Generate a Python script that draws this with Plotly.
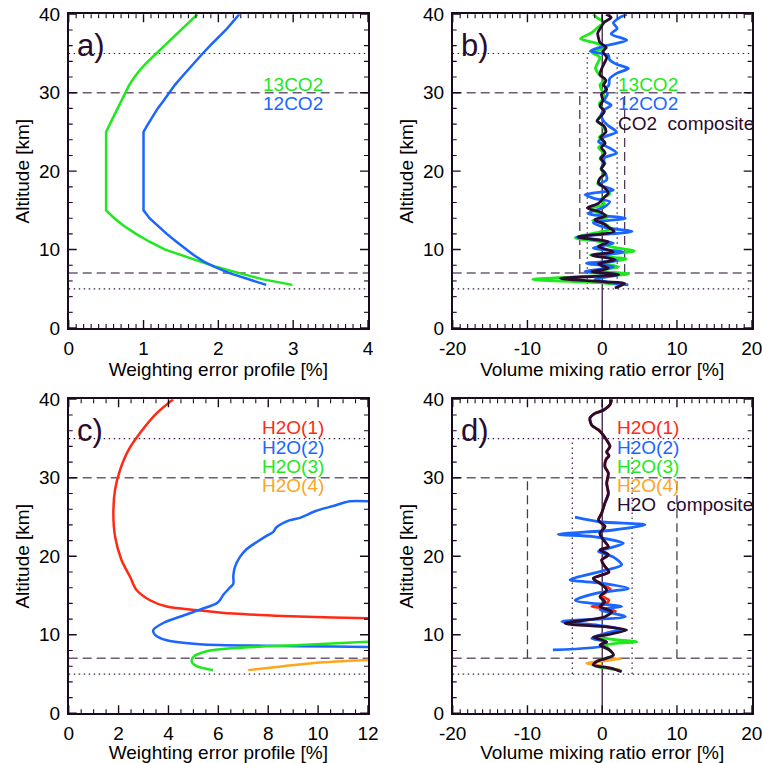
import plotly.graph_objects as go

# ---------------- data ----------------
# panel a: weighting error profiles CO2
alt_a13 = [5.5, 6.2, 7.0, 7.8, 8.5, 9.3, 10.0, 11.0, 12.0, 13.0, 14.0, 15.0,
           25.0, 26.0, 27.0, 28.0, 29.0, 30.0, 31.0, 32.0, 33.0, 34.0, 35.0, 36.0, 37.0, 38.0, 39.0, 40.0]
w_a13 = [2.99, 2.6, 2.28, 1.97, 1.75, 1.5, 1.29, 1.08, 0.9, 0.74, 0.61, 0.5,
         0.5, 0.55, 0.6, 0.65, 0.7, 0.75, 0.81, 0.88, 0.96, 1.06, 1.17, 1.28, 1.39, 1.51, 1.61, 1.72]
alt_a12 = [5.5, 6.2, 7.0, 7.8, 8.5, 9.3, 10.0, 11.0, 12.0, 13.0, 14.0, 15.0,
           25.0, 26.0, 27.0, 28.0, 29.0, 30.0, 31.0, 32.0, 33.0, 34.0, 35.0, 36.0, 37.0, 38.0, 39.0, 40.0]
w_a12 = [2.64, 2.4, 2.15, 1.95, 1.8, 1.67, 1.57, 1.44, 1.31, 1.19, 1.08, 1.0,
         1.0, 1.06, 1.12, 1.19, 1.27, 1.34, 1.42, 1.51, 1.6, 1.7, 1.79, 1.89, 2.0, 2.1, 2.19, 2.28]

# panel b: VMR errors CO2
alt_b13 = [40, 39.5, 39.0, 38.4, 37.6, 36.9, 36.3, 35.7, 35.2, 34.5, 33.8, 33.1, 32.3, 31.6, 31.0, 30.2,
           29.4, 28.6, 27.8, 27.0, 26.4, 25.7, 25.0, 24.3, 23.6, 23.0, 22.3, 21.6, 21.0, 20.3, 19.7, 19.0,
           18.4, 17.8, 17.1, 16.4, 15.8, 15.2, 14.7, 14.2, 13.7, 13.2, 12.6, 12.2, 11.5, 11.0, 10.4, 9.8,
           9.3, 8.8, 8.3, 7.8, 7.3, 6.9, 6.2, 5.8, 5.5]
v_b13 = [-1.2, -0.6, 0.3, -0.5, -1.5, -2.9, -0.7, 0.6, -1.4, -0.3, -0.6, -0.9, -0.4, 0.3, -0.3, 0.0,
         0.3, -0.4, 0.2, -0.3, -0.6, 0.1, 0.4, -0.4, 0.3, -0.5, 0.2, -0.3, 0.4, -0.2, 0.3, -0.3,
         -0.6, 0.6, 1.0, -0.2, 0.3, -1.6, -0.6, 0.9, -1.3, 0.5, 1.1, -0.5, -3.6, -0.3, 1.0, 4.3,
         -1.6, 3.2, -0.2, 2.2, -0.8, 3.5, -9.3, -0.5, 2.8]
alt_b12 = [40, 39.5, 38.9, 38.2, 37.5, 36.7, 36.0, 35.3, 34.8, 34.2, 33.6, 33.1, 32.5, 31.8, 31.0, 30.4,
           29.8, 29.0, 28.4, 27.8, 27.3, 26.5, 25.8, 25.0, 24.4, 23.8, 23.2, 22.3, 21.7, 21.0, 20.3, 19.6,
           18.9, 18.3, 17.6, 17.0, 16.5, 16.1, 15.4, 14.6, 14.0, 13.4, 12.8, 12.3, 11.6, 11.2, 10.8, 10.2,
           9.7, 9.2, 8.6, 8.25, 7.8, 7.2, 6.8, 6.2, 5.8, 5.5]
v_b12 = [3.3, 2.2, 1.5, 2.0, 1.2, 3.3, 0.5, -1.6, 0.8, 1.0, 2.0, 3.5, 2.0, 1.0, 0.9, 0.4,
         0.7, 0.3, 1.2, 0.2, -0.1, 0.1, 0.8, 1.9, 0.4, -0.5, 0.5, 1.9, 0.3, 0.2, -0.1, 0.5,
         0.6, -0.4, 1.5, -2.3, -1.0, 1.0, 0.2, -1.9, 3.1, -1.2, 0.5, 4.0, -3.4, -0.5, 1.5, -1.2,
         2.8, 0.0, 2.0, -2.1, 1.5, -2.3, 2.2, -1.0, 1.0, 3.5]
alt_bc = [40, 39.6, 39.0, 38.3, 37.6, 37.0, 36.4, 35.8, 35.2, 34.5, 33.8, 33.0, 32.3, 31.6, 31.0, 30.4,
          29.8, 29.0, 28.3, 27.6, 27.0, 26.4, 25.8, 25.0, 24.3, 23.6, 23.0, 22.3, 21.6, 21.0, 20.3, 19.7,
          19.1, 18.5, 17.8, 17.2, 16.5, 15.9, 15.3, 14.8, 14.3, 13.8, 13.3, 12.8, 12.3, 11.6, 11.0, 10.4,
          9.7, 9.3, 8.7, 8.2, 7.6, 7.2, 6.8, 6.3, 5.9, 5.7, 5.1]
v_bc = [0.5, 1.2, 0.3, -0.2, -0.6, -0.5, -0.3, 0.5, 0.1, 0.6, 0.3, -0.1, -0.3, 0.5, 0.2, 0.6,
        -0.1, 0.1, -0.3, 0.3, -0.2, -0.7, 0.2, 0.5, -0.2, 0.4, -0.1, 0.4, -0.2, 0.3, -0.1, 0.4,
        -0.3, -0.5, 0.4, 0.8, 0.1, -0.5, -2.0, -0.3, 0.5, -1.0, 0.2, 0.9, 1.6, -3.2, 0.8, -0.5,
        1.5, -1.4, 1.7, -0.5, 0.8, -1.4, 2.2, -5.6, 0.2, 3.0, 1.7]

# panel c: weighting error profiles H2O
w_c1 = [12.0, 10.6, 8.6, 6.6, 5.26, 3.93, 3.26, 2.72, 2.46, 2.12, 1.86, 1.79, 1.86, 2.06, 2.39, 2.86, 3.52, 4.19]
alt_c1 = [12.1, 12.2, 12.4, 12.7, 13.1, 13.6, 14.4, 15.7, 17.4, 19.5, 22.5, 25.5, 28.5, 31.0, 33.5, 35.7, 38.2, 40.0]
w_c2 = [12.0, 11.27, 10.6, 9.93, 9.27, 8.87, 8.33, 8.2, 7.93, 7.53, 7.13, 6.86, 6.66, 6.6, 6.6, 6.46, 6.2,
        6.06, 5.93, 5.26, 4.46, 3.79, 3.39, 3.46, 3.93, 5.26, 7.93, 10.6, 12.0]
alt_c2 = [27.0, 27.0, 26.4, 25.8, 24.9, 24.6, 23.7, 23.1, 22.6, 21.8, 20.9, 19.9, 18.6, 17.5, 16.5, 16.0, 15.1,
          14.4, 14.0, 13.2, 12.3, 11.5, 10.6, 10.0, 9.3, 8.8, 8.6, 8.5, 8.45]
w_c3 = [12.0, 9.27, 6.6, 5.53, 5.0, 4.93, 5.13, 5.79]
alt_c3 = [9.1, 8.7, 8.3, 7.9, 7.2, 6.6, 6.0, 5.5]
w_c4 = [7.2, 8.6, 9.93, 12.0]
alt_c4 = [5.5, 6.0, 6.45, 6.8]

# panel d: VMR errors H2O
alt_d1 = [40, 39.3, 38.6, 38.2, 37.6, 36.7, 36.1, 35.7, 34.8, 34.0, 33.3, 32.8, 32.3, 31.4, 30.6, 29.3,
          28.0, 26.8, 25.5, 24.6, 23.8, 22.9, 22.1, 21.2, 20.8, 20.2, 19.5, 18.7, 18.0, 17.2, 16.55, 15.8,
          15.0, 14.4, 13.9, 13.6, 13.3, 12.9]
v_d1 = [1.26, 1.04, 0.15, -0.97, -1.64, -1.4, -0.5, -0.07, 0.6, 1.04, 0.6, 0.9, 0.5, 0.37, 0.82, 0.6,
        0.82, 0.37, -0.07, -0.5, 0.37, -0.3, 0.15, 0.82, -0.3, 0.82, -0.07, 0.37, 0.9, -1.2, -0.3, 1.1,
        -0.1, 0.9, 0.3, -1.4, 1.0, 1.9]
alt_d2 = [25.0, 24.4, 24.0, 23.35, 22.8, 22.5, 21.65, 21.0, 20.6, 19.9, 18.9, 18.05, 17.0, 16.6, 15.9, 15.3,
          14.4, 13.8, 13.6, 13.2, 12.3, 11.7, 11.2, 10.7, 10.2, 9.55, 9.1, 8.7, 8.07]
v_d2 = [-3.64, -0.3, 5.72, 1.5, -5.87, -1.2, 2.83, 0.8, -0.5, 1.5, 2.6, -0.3, -4.3, -0.3, 3.5, -0.7,
        -3.6, 1.04, 2.6, -0.3, 3.1, -5.4, -0.5, 2.5, 0.5, -1.4, 0.5, 0.6, -6.6]
alt_d3 = [9.76, 9.4, 9.1, 8.7, 8.05, 7.4, 7.0, 6.6, 6.15, 5.9, 5.5]
v_d3 = [-0.97, 1.5, 4.6, 0.6, 1.0, 1.5, 0.5, -0.74, -1.0, -0.5, 2.4]
alt_d4 = [7.0, 6.7, 6.36, 6.1, 5.8, 5.4]
v_d4 = [2.6, 0.5, -2.08, -0.5, 1.0, 2.6]
alt_dc = [40, 39.3, 38.6, 38.2, 37.6, 36.7, 36.1, 35.7, 34.8, 34.0, 33.3, 32.8, 32.3, 31.4, 30.6, 29.3,
          28.0, 26.8, 25.5, 24.6, 23.8, 22.9, 22.1, 21.2, 20.8, 20.2, 19.5, 18.7, 18.0, 17.2, 16.55, 15.7,
          14.85, 14.2, 13.6, 12.94, 12.3, 11.46, 11.0, 10.6, 10.0, 9.7, 9.1, 8.7, 8.05, 7.4, 7.0, 6.6,
          6.15, 5.73, 5.3]
v_dc = [1.26, 1.04, 0.15, -0.97, -1.64, -1.4, -0.5, -0.07, 0.6, 1.04, 0.6, 0.9, 0.5, 0.37, 0.82, 0.6,
        0.82, 0.37, -0.07, -0.5, 0.37, -0.3, 0.15, 0.82, -0.3, 0.82, -0.07, 0.37, 0.9, -1.2, -0.3, 0.6,
        -0.3, 0.37, -0.3, 1.27, 0.37, -4.97, 0.6, 3.27, 0.6, -1.2, 0.6, -0.3, 1.0, 1.5, 0.5, -0.74,
        -1.2, 1.27, 2.6]

# reference levels (km) and error bounds (%)
h_dotted = [5, 35]
h_dashed = [7, 30]
b_dotted = [-2, 2]
b_dashed = [-3, 3]
d_dotted = [-4, 4]
d_dashed = [-10, 10]

# tick labels
alt_ticks = [0, 10, 20, 30, 40]
vmr_ticks = [-20, -10, 0, 10, 20]
vmr_ticktext = ["-20", "-10", "0", "10", "20"]

labels_a = ["13CO2", "12CO2"]
labels_b = ["13CO2", "12CO2", "CO2  composite"]
labels_c = ["H2O(1)", "H2O(2)", "H2O(3)", "H2O(4)"]
labels_d = ["H2O(1)", "H2O(2)", "H2O(3)", "H2O(4)", "H2O  composite"]

# ---------------- style ----------------
GREEN = "#1ee81e"
BLUE = "#1a66ff"
RED = "#ff2a14"
ORANGE = "#ffa51e"
DARK = "#2a0c30"
DASHC = "#6e5a74"
DOTC = "#3c1a44"
FRAME = "#1a0a1e"
FONT = "Liberation Sans"
FS = 19
LW = 2.5

fig = go.Figure()

def add(x, y, color, ax, width=LW, dash=None, shape="linear"):
    xa = "x" if ax == 1 else f"x{ax}"
    ya = "y" if ax == 1 else f"y{ax}"
    fig.add_trace(go.Scatter(x=x, y=y, mode="lines", xaxis=xa, yaxis=ya,
                             line=dict(color=color, width=width, dash=dash, shape=shape,
                                       smoothing=0.8 if shape == "spline" else None),
                             showlegend=False, hoverinfo="skip"))

xr = {1: [0, 4], 2: [-20, 20], 3: [0, 12], 4: [-20, 20]}

# reference horizontal lines
for ax in (1, 2, 3, 4):
    for h in h_dotted:
        add(xr[ax], [h, h], DOTC, ax, width=1.2, dash="1.5px,3.5px")
    for h in h_dashed:
        add(xr[ax], [h, h], DASHC, ax, width=1.5, dash="9px,5px")

# vertical bounds in b and d
for ax, dots, dashes in ((2, b_dotted, b_dashed), (4, d_dotted, d_dashed)):
    for v in dots:
        add([v, v], [h_dotted[0], h_dotted[1]], DOTC, ax, width=1.2, dash="1.5px,3.5px")
    for v in dashes:
        add([v, v], [h_dashed[0], h_dashed[1]], "#4e3a56", ax, width=1.3, dash="9px,5px")
    add([0, 0], [0, 40], DARK, ax, width=1.2)

# panel a
add(w_a13, alt_a13, GREEN, 1)
add(w_a12, alt_a12, BLUE, 1)
# panel b
add(v_b13, alt_b13, GREEN, 2, width=2.8, shape="spline")
add(v_b12, alt_b12, BLUE, 2, width=2.8, shape="spline")
add(v_bc, alt_bc, DARK, 2, width=2.8, shape="spline")
# panel c
add(w_c1, alt_c1, RED, 3, shape="spline")
add(w_c2, alt_c2, BLUE, 3, shape="spline")
add(w_c3, alt_c3, GREEN, 3, shape="spline")
add(w_c4, alt_c4, ORANGE, 3, shape="spline")
# panel d
add(v_d1, alt_d1, RED, 4, width=2.8, shape="spline")
add(v_d2, alt_d2, BLUE, 4, width=2.8, shape="spline")
add(v_d3, alt_d3, GREEN, 4, width=2.8, shape="spline")
add(v_d4, alt_d4, ORANGE, 4, width=2.8, shape="spline")
add(v_dc, alt_dc, DARK, 4, width=2.8, shape="spline")

W = 763
xl = [68.7 / W, 368.0 / W]
xrt = [452.7 / W, 751.7 / W]
yt = [1 - 328.0 / W, 1 - 14.3 / W]
yb = [1 - 713.3 / W, 1 - 399.3 / W]

tickfont = dict(family=FONT, size=FS, color="black")
titlefont = dict(family=FONT, size=FS, color="black")

def xaxis(dom, anchor, rng, dtick, title, vmr=False):
    d = dict(domain=dom, anchor=anchor, range=rng, dtick=dtick, tick0=rng[0],
             showline=True, linewidth=1.6, linecolor=FRAME, mirror=True,
             ticks="", showgrid=False, zeroline=False, tickfont=tickfont, ticklabelstandoff=2,
             title=dict(text=title, font=titlefont, standoff=0))
    if vmr:
        d.update(tickmode="array", tickvals=vmr_ticks, ticktext=vmr_ticktext)
    return d

def yaxis(dom, anchor):
    return dict(domain=dom, anchor=anchor, range=[0, 40], tickmode="array", tickvals=alt_ticks,
                showline=True, linewidth=1.6, linecolor=FRAME, mirror=True,
                ticks="", showgrid=False, zeroline=False, tickfont=tickfont, ticklabelstandoff=3,
                title=dict(text="Altitude [km]", font=titlefont, standoff=4))

fig.update_layout(
    template="none",
    width=W, height=W, margin=dict(l=0, r=0, t=0, b=0, autoexpand=False),
    paper_bgcolor="white", plot_bgcolor="white", showlegend=False,
    font=dict(family=FONT, size=FS, color="black"),
    xaxis=xaxis(xl, "y", [0, 4], 1, "Weighting error profile [%]"),
    yaxis=yaxis(yt, "x"),
    xaxis2=xaxis(xrt, "y2", [-20, 20], 10, "Volume mixing ratio error [%]", vmr=True),
    yaxis2=yaxis(yt, "x2"),
    xaxis3=xaxis(xl, "y3", [0, 12], 2, "Weighting error profile [%]"),
    yaxis3=yaxis(yb, "x3"),
    xaxis4=xaxis(xrt, "y4", [-20, 20], 10, "Volume mixing ratio error [%]", vmr=True),
    yaxis4=yaxis(yb, "x4"),
)

# ---- tick marks on all four sides, pointing inward (IDL style) ----
shapes = []
PW, PH = 299.3, 314.0      # plot box size in px
MAJ, MIN = 8.0, 4.0        # tick lengths in px

def steps(lo, hi, step):
    n = int(round((hi - lo) / step))
    return [lo + i * step for i in range(n + 1)]

def xticks(ax, lo, hi, major, minor):
    xa = "x" if ax == 1 else f"x{ax}"
    ya = "y" if ax == 1 else f"y{ax}"
    majors = steps(lo, hi, major)
    for v in steps(lo, hi, minor):
        is_major = any(abs(v - m) < 1e-9 for m in majors)
        L = (MAJ if is_major else MIN) / PH
        w = 1.4 if is_major else 1.1
        for y0, y1 in ((0, L), (1, 1 - L)):
            shapes.append(dict(type="line", xref=xa, yref=f"{ya} domain", x0=v, x1=v, y0=y0, y1=y1,
                               line=dict(color=FRAME, width=w), layer="above"))

def yticks(ax, lo, hi, major, minor):
    xa = "x" if ax == 1 else f"x{ax}"
    ya = "y" if ax == 1 else f"y{ax}"
    majors = steps(lo, hi, major)
    for v in steps(lo, hi, minor):
        is_major = any(abs(v - m) < 1e-9 for m in majors)
        L = (MAJ if is_major else MIN) / PW
        w = 1.4 if is_major else 1.1
        for x0, x1 in ((0, L), (1, 1 - L)):
            shapes.append(dict(type="line", xref=f"{xa} domain", yref=ya, x0=x0, x1=x1, y0=v, y1=v,
                               line=dict(color=FRAME, width=w), layer="above"))

xticks(1, 0, 4, 1, 0.1)
xticks(2, -20, 20, 10, 1)
xticks(3, 0, 12, 2, 0.5)
xticks(4, -20, 20, 10, 1)
for ax in (1, 2, 3, 4):
    yticks(ax, 0, 40, 10, 2)

ann = []
def label(ax, text, x, y, color, size=FS):
    xa = "x" if ax == 1 else f"x{ax}"
    ya = "y" if ax == 1 else f"y{ax}"
    ann.append(dict(text=text, x=x, y=y, xref=f"{xa} domain", yref=f"{ya} domain",
                    xanchor="left", yanchor="middle", showarrow=False,
                    font=dict(family=FONT, size=size, color=color)))

for ax, t, yy in ((1, "a)", 0.902), (2, "b)", 0.902), (3, "c)", 0.9), (4, "d)", 0.9)):
    label(ax, t, 0.022, yy, DARK, size=31)

step = 0.0608
for i, (t, c) in enumerate(zip(labels_a, [GREEN, BLUE])):
    label(1, t, 0.643, 0.775 - i * step, c)
for i, (t, c) in enumerate(zip(labels_b, [GREEN, BLUE, DARK])):
    label(2, t, 0.547, 0.775 - i * step, c)
for i, (t, c) in enumerate(zip(labels_c, [RED, BLUE, GREEN, ORANGE])):
    label(3, t, 0.640, 0.9086 - i * step, c)
for i, (t, c) in enumerate(zip(labels_d, [RED, BLUE, GREEN, ORANGE, DARK])):
    label(4, t, 0.5435, 0.9086 - i * step, c)

fig.update_layout(annotations=ann, shapes=shapes)
fig.write_html("out.html")
